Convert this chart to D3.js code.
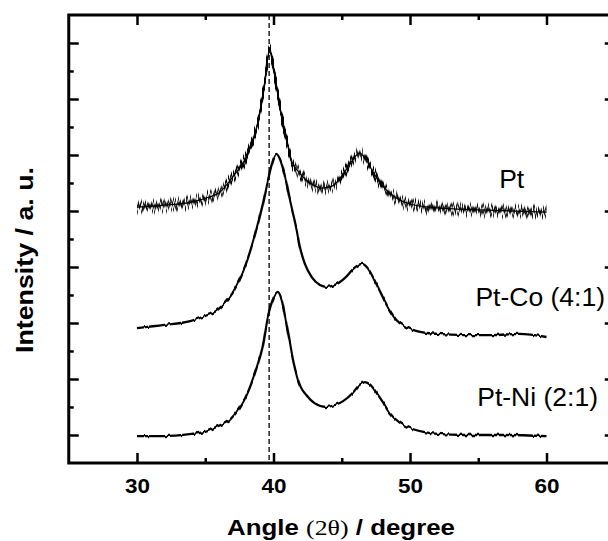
<!DOCTYPE html>
<html><head><meta charset="utf-8">
<script src="https://cdn.jsdelivr.net/npm/d3@7/dist/d3.min.js"></script>
<style>body{margin:0;background:#fff}svg{display:block}</style>
</head><body>
<svg id="c" width="608" height="541"></svg>
<script>
// ---- data ----
const angleXTicksMajor = [30, 40, 50, 60];
const angleXTicksMinor = [35, 45, 55];
const yTicksMajor = [1, 3, 5, 7, 9, 11, 13, 15];
const yTicksMinor = [2, 4, 6, 8, 10, 12, 14];
const refLine = 39.68;

const ptAngle = [30,32,34,35.3,36,37,38,38.5,38.95,39.35,39.7,40.0,40.6,40.96,41.3,41.9,42.9,43.5,44.3,45.3,45.8,46.3,46.8,47.3,48,49,50,52,55,60];
const ptI     = [9.14,9.21,9.32,9.5,9.64,10.21,10.93,11.54,12.36,13.57,14.75,14.1,12.36,11.54,10.82,10.36,9.93,9.82,9.89,10.46,10.82,11.07,10.82,10.39,9.89,9.46,9.25,9.11,9.04,8.96];

const coAngle = [30,32,33.9,35.0,35.8,36.5,37.0,37.5,38.0,38.7,39.2,39.6,39.9,40.2,40.5,40.9,41.2,41.7,41.9,42.3,42.8,43.4,43.9,44.5,45.3,45.9,46.5,46.9,47.5,48.3,49.0,49.7,50.5,52,54,56,58,60];
const coI     = [4.82,4.93,5.07,5.25,5.43,5.75,6.07,6.54,7.14,8.25,9.21,10.11,10.71,11.04,10.82,10.11,9.39,8.32,7.79,7.11,6.64,6.36,6.29,6.36,6.64,6.96,7.11,6.96,6.43,5.64,5.11,4.86,4.71,4.61,4.57,4.57,4.61,4.5];

const niAngle = [30,32,34,35,35.8,36.8,37.5,38.0,38.7,39.2,39.6,40.0,40.3,40.6,40.8,41.0,41.2,41.4,41.6,41.8,42.0,42.4,43.0,43.85,44.5,45.1,45.8,46.3,46.7,47.1,47.5,48.0,48.5,49.2,50.0,51,52,54,57,60];
const niI     = [0.96,0.96,1.04,1.11,1.29,1.54,1.96,2.39,3.3,4.14,5.25,5.89,6.11,5.82,5.36,4.82,4.3,3.75,3.32,2.96,2.71,2.43,2.14,2.0,2.07,2.21,2.5,2.79,2.89,2.79,2.54,2.18,1.79,1.46,1.25,1.11,1.04,1.0,1.0,0.96];

const seriesLabels = ["Pt", "Pt-Co (4:1)", "Pt-Ni (2:1)"];

// ---- layout ----
const svg = d3.select("#c");
const L = 68.75, R = 614.75, T = 15, B = 463;
const x = d3.scaleLinear().domain([25, 65]).range([L, R]);
const y = d3.scaleLinear().domain([0, 16]).range([B, T]);
const font = "'Liberation Sans', Arial, sans-serif";

// noise filters (visual texture of raw scans)
const defs = svg.append("defs");
function noiseFilter(id, freq, seed, scale, gain, smear){
  const f = defs.append("filter").attr("id",id).attr("x","-3%").attr("y","-40%").attr("width","106%").attr("height","180%")
    .attr("color-interpolation-filters","sRGB");
  f.append("feTurbulence").attr("type","fractalNoise").attr("baseFrequency",freq).attr("numOctaves",2).attr("seed",seed).attr("result","t");
  f.append("feColorMatrix").attr("in","t").attr("type","matrix")
    .attr("values","0 0 0 0 0.5  0 1 0 0 0  0 0 0 0 0  0 0 0 0 1").attr("result","m");
  const ct = f.append("feComponentTransfer").attr("in","m").attr("result","c");
  ct.append("feFuncG").attr("type","linear").attr("slope",gain).attr("intercept",0.5 - gain*0.5);
  f.append("feDisplacementMap").attr("in","SourceGraphic").attr("in2","c").attr("scale",scale)
    .attr("xChannelSelector","R").attr("yChannelSelector","G").attr("result","d");
  if (smear) {
    f.append("feGaussianBlur").attr("in","d").attr("stdDeviation",`0 ${smear}`).attr("result","b");
    const a = f.append("feComponentTransfer").attr("in","b");
    a.append("feFuncA").attr("type","linear").attr("slope",3.5).attr("intercept",0);
  }
}
noiseFilter("n1","0.9 0",3,11,3,1.6);
noiseFilter("n2","0.6 0",11,10,3,1.6);
noiseFilter("wig","0.25 0",7,3,1.5,0);

const line = d3.line().x(d => x(d[0])).y(d => y(d[1])).curve(d3.curveMonotoneX);
const zip = (a, b) => a.map((v, i) => [v, b[i]]);

// dashed reference line
svg.append("line").attr("x1", x(refLine)).attr("x2", x(refLine)).attr("y1", T).attr("y2", B)
  .attr("stroke","#000").attr("stroke-width",1.3).attr("stroke-dasharray","5,3");

// curves
const ptData = zip(ptAngle, ptI);
svg.append("path").datum(ptData).attr("d", line).attr("fill","none").attr("stroke","#000").attr("stroke-width",1.2);
["n1","n2"].forEach(id => svg.append("path").datum(ptData).attr("d", line).attr("fill","none")
  .attr("stroke","#000").attr("stroke-width",1.0).attr("filter",`url(#${id})`));
svg.append("path").datum(zip(coAngle, coI)).attr("d", line).attr("fill","none")
  .attr("stroke","#000").attr("stroke-width",2.3).attr("filter","url(#wig)");
svg.append("path").datum(zip(niAngle, niI)).attr("d", line).attr("fill","none")
  .attr("stroke","#000").attr("stroke-width",2.3).attr("filter","url(#wig)");

// axes ticks (inward)
function styleAxis(g){ g.select(".domain").remove(); g.selectAll("line").attr("stroke","#000").attr("stroke-width",2.5); }
svg.append("g").attr("transform",`translate(0,${B})`).call(d3.axisBottom(x).tickValues(angleXTicksMajor).tickSize(-10).tickPadding(15).tickFormat(d3.format("d")))
  .call(styleAxis).call(g => g.selectAll("text").attr("font-family",font).attr("font-weight","bold").attr("font-size",21)
    .attr("textLength",25).attr("lengthAdjust","spacingAndGlyphs").attr("fill","#000"));
svg.append("g").attr("transform",`translate(0,${B})`).call(d3.axisBottom(x).tickValues(angleXTicksMinor).tickSize(-5).tickFormat("")).call(styleAxis);
svg.append("g").attr("transform",`translate(0,${T})`).call(d3.axisTop(x).tickValues(angleXTicksMajor).tickSize(-10).tickFormat("")).call(styleAxis);
svg.append("g").attr("transform",`translate(0,${T})`).call(d3.axisTop(x).tickValues(angleXTicksMinor).tickSize(-5).tickFormat("")).call(styleAxis);
svg.append("g").attr("transform",`translate(${L},0)`).call(d3.axisLeft(y).tickValues(yTicksMajor).tickSize(-10).tickFormat("")).call(styleAxis);
svg.append("g").attr("transform",`translate(${L},0)`).call(d3.axisLeft(y).tickValues(yTicksMinor).tickSize(-5).tickFormat("")).call(styleAxis);
svg.append("g").attr("transform",`translate(${R},0)`).call(d3.axisRight(y).tickValues(yTicksMajor).tickSize(-10).tickFormat("")).call(styleAxis);
svg.append("g").attr("transform",`translate(${R},0)`).call(d3.axisRight(y).tickValues(yTicksMinor).tickSize(-5).tickFormat("")).call(styleAxis);

// frame
svg.append("rect").attr("x",L).attr("y",T).attr("width",R-L).attr("height",B-T)
  .attr("fill","none").attr("stroke","#000").attr("stroke-width",3);

// series labels
const lab = [[511.7,188,"middle"],[605,306,"end"],[598,406,"end"]];
seriesLabels.forEach((s,i) => svg.append("text").attr("x",lab[i][0]).attr("y",lab[i][1]).attr("text-anchor",lab[i][2])
  .attr("font-family",font).attr("font-size",26.5).attr("fill","#000").text(s));

// axis titles
const xt = svg.append("text").attr("x", 341).attr("y", 535).attr("text-anchor","middle")
  .attr("textLength",228).attr("lengthAdjust","spacingAndGlyphs")
  .attr("font-family",font).attr("font-size",22).attr("font-weight","bold").attr("fill","#000");
xt.append("tspan").text("Angle ");
xt.append("tspan").attr("font-family","'Liberation Serif', 'Times New Roman', serif").attr("font-weight","normal").text("(2θ)");
xt.append("tspan").text(" / degree");

svg.append("text").attr("transform","translate(33,260) rotate(-90)").attr("text-anchor","middle")
  .attr("textLength",186).attr("lengthAdjust","spacingAndGlyphs")
  .attr("font-family",font).attr("font-size",23).attr("font-weight","bold").attr("fill","#000").text("Intensity / a. u.");
</script>
</body></html>
